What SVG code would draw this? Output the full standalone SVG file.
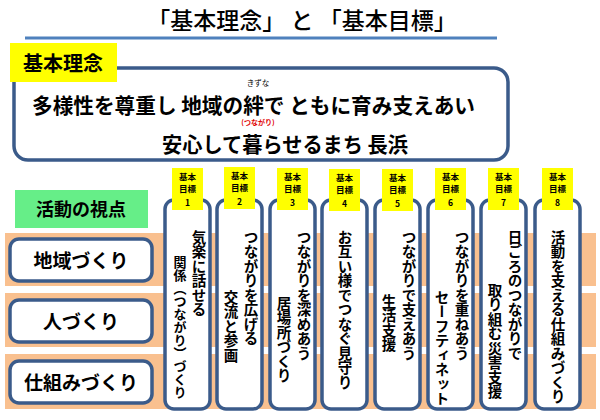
<svg xmlns="http://www.w3.org/2000/svg" width="600" height="420" viewBox="0 0 600 420">
<style>
text{font-family:"Noto Sans CJK JP",sans-serif;font-weight:bold;fill:#000}
.band{fill:#f9c08f}
.box{fill:#fff;stroke:#3b5b8a;stroke-width:3.5}
.tag{fill:#ffff00}
.tg{font-size:8.5px;text-anchor:middle}
.v{writing-mode:vertical-rl;font-size:14.5px}
.lb{font-size:19px;text-anchor:middle}
</style>
<rect width="600" height="420" fill="#fff"/>
<text x="302" y="29" text-anchor="middle" style="font-weight:500;font-size:23px">「基本理念」 と 「基本目標」</text>
<line x1="25" y1="38" x2="497" y2="38" stroke="#4f81bd" stroke-width="3"/>
<g id="rinen">
<rect x="14" y="68" width="494" height="92" rx="14" class="box"/>
<rect x="10" y="43" width="107" height="39" class="tag"/>
<text x="63" y="71" text-anchor="middle" font-size="20">基本理念</text>
<text x="32" y="113" font-size="21" textLength="443" lengthAdjust="spacingAndGlyphs">多様性を尊重し 地域の絆で ともに育み支えあい</text>
<text x="258" y="86" font-size="7.5" text-anchor="middle" style="font-weight:normal">きずな</text>
<text x="258" y="125" font-size="7" text-anchor="middle" style="fill:#e00000">(つながり)</text>
<text x="162" y="152" font-size="21" textLength="246" lengthAdjust="spacingAndGlyphs">安心して暮らせるまち 長浜</text>
</g>
<g id="bands">
<rect x="5" y="233" width="591" height="53" class="band"/>
<rect x="5" y="293" width="591" height="54" class="band"/>
<rect x="5" y="354" width="591" height="55" class="band"/>
</g>
<g id="shiten">
<rect x="15" y="190" width="133" height="38" fill="#66ee88"/>
<text x="81" y="216" text-anchor="middle" font-size="18">活動の視点</text>
</g>
<g id="v1"><rect x="10" y="239" width="142" height="42" rx="9" class="box"/><text x="81" y="268" class="lb">地域づくり</text></g>
<g id="v2"><rect x="10" y="300" width="142" height="42" rx="9" class="box"/><text x="81" y="329" class="lb">人づくり</text></g>
<g id="v3"><rect x="10" y="361" width="142" height="42" rx="9" class="box"/><text x="81" y="390" class="lb">仕組みづくり</text></g>
<g id="goals">
<g id="g1"><rect x="165" y="200" width="45" height="209" rx="9" class="box"/><rect x="172" y="168" width="31" height="42" class="tag"/><text x="187.5" y="180" class="tg">基本</text><text x="187.5" y="192" class="tg">目標</text><text x="187.5" y="206" class="tg">1</text>
<text x="199" y="230" class="v">気楽に話せる</text><text x="180" y="256" class="v" style="font-size:13px">関係（つながり）づくり</text></g>
<g id="g2"><rect x="217" y="200" width="45" height="209" rx="9" class="box"/><rect x="224" y="167" width="31" height="42" class="tag"/><text x="239.5" y="179" class="tg">基本</text><text x="239.5" y="191" class="tg">目標</text><text x="239.5" y="205" class="tg">2</text>
<text x="251" y="230" class="v">つながりを広げる</text><text x="231" y="290" class="v">交流と参画</text></g>
<g id="g3"><rect x="270" y="200" width="45" height="209" rx="9" class="box"/><rect x="277" y="168" width="31" height="42" class="tag"/><text x="292.5" y="180" class="tg">基本</text><text x="292.5" y="192" class="tg">目標</text><text x="292.5" y="206" class="tg">3</text>
<text x="304" y="230" class="v">つながりを深めあう</text><text x="284" y="296" class="v">居場所づくり</text></g>
<g id="g4"><rect x="322" y="200" width="45" height="209" rx="9" class="box"/><rect x="329" y="169" width="31" height="42" class="tag"/><text x="344.5" y="181" class="tg">基本</text><text x="344.5" y="193" class="tg">目標</text><text x="344.5" y="207" class="tg">4</text>
<text x="345" y="230" class="v">お互い様でつなぐ見守り</text></g>
<g id="g5"><rect x="375" y="200" width="45" height="209" rx="9" class="box"/><rect x="382" y="169" width="31" height="42" class="tag"/><text x="397.5" y="181" class="tg">基本</text><text x="397.5" y="193" class="tg">目標</text><text x="397.5" y="207" class="tg">5</text>
<text x="409" y="230" class="v">つながりで支えあう</text><text x="389" y="294" class="v">生活支援</text></g>
<g id="g6"><rect x="428" y="200" width="45" height="209" rx="9" class="box"/><rect x="435" y="168" width="31" height="42" class="tag"/><text x="450.5" y="180" class="tg">基本</text><text x="450.5" y="192" class="tg">目標</text><text x="450.5" y="206" class="tg">6</text>
<text x="462" y="230" class="v">つながりを重ねあう</text><text x="442" y="290" class="v">セーフティネット</text></g>
<g id="g7"><rect x="481" y="200" width="45" height="209" rx="9" class="box"/><rect x="488" y="168" width="31" height="42" class="tag"/><text x="503.5" y="180" class="tg">基本</text><text x="503.5" y="192" class="tg">目標</text><text x="503.5" y="206" class="tg">7</text>
<text x="515" y="230" class="v">日ごろのつながりで</text><text x="495" y="283" class="v">取り組む災害支援</text></g>
<g id="g8"><rect x="535" y="200" width="45" height="209" rx="9" class="box"/><rect x="542" y="168" width="31" height="42" class="tag"/><text x="557.5" y="180" class="tg">基本</text><text x="557.5" y="192" class="tg">目標</text><text x="557.5" y="206" class="tg">8</text>
<text x="558" y="230" class="v">活動を支える仕組みづくり</text></g>
</g>
</svg>
